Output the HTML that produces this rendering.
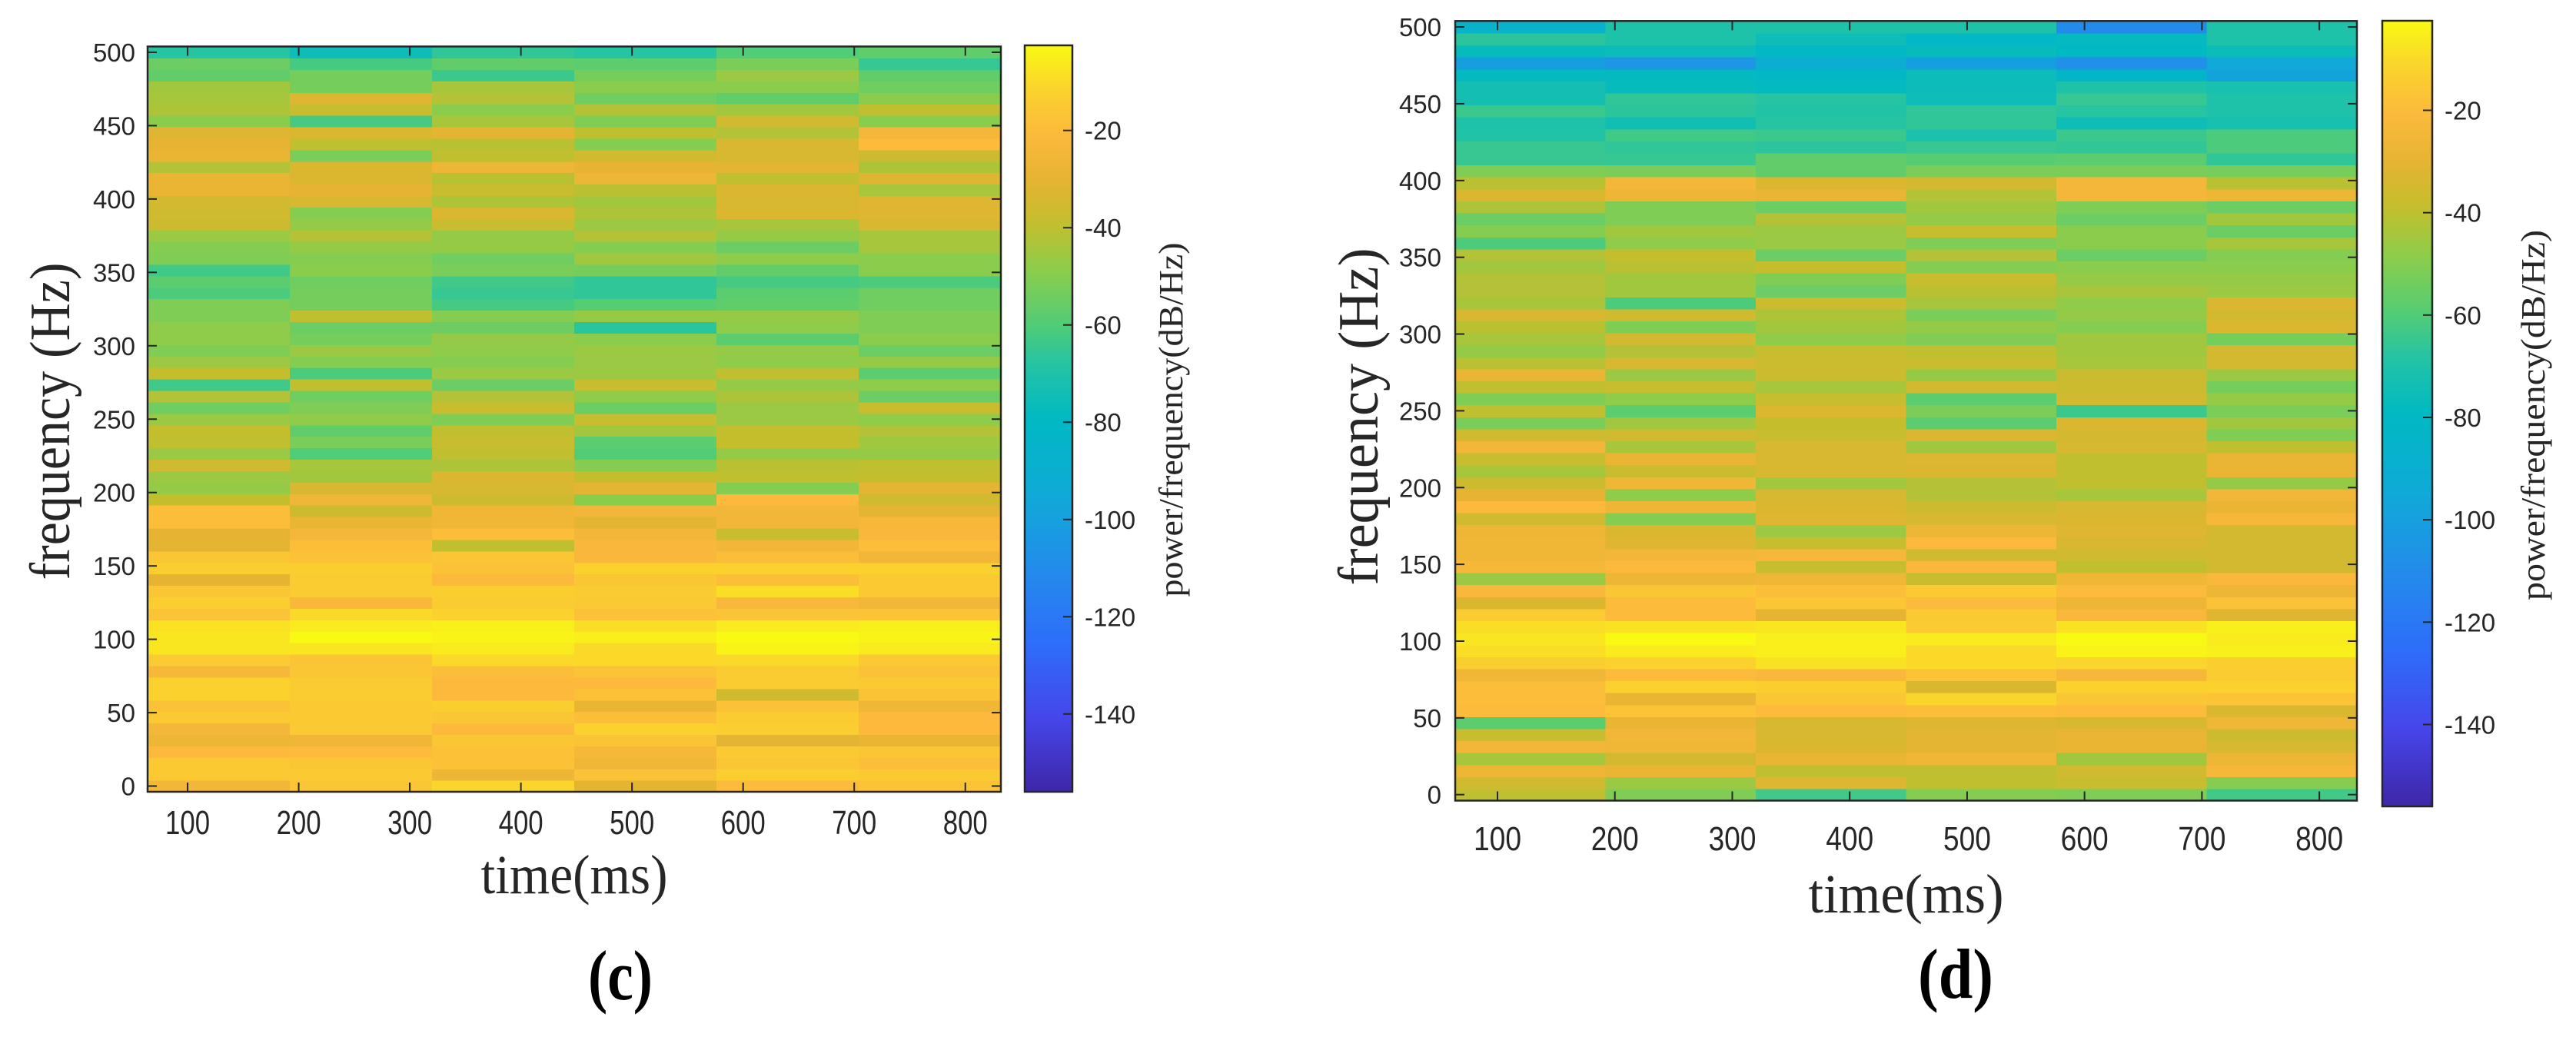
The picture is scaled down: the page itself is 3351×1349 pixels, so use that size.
<!DOCTYPE html>
<html><head><meta charset="utf-8"><title>Spectrograms (c) and (d)</title>
<style>html,body{margin:0;padding:0;background:#fff;}svg{display:block;}</style></head>
<body>
<svg id="fig" xmlns="http://www.w3.org/2000/svg" width="3351" height="1349" viewBox="0 0 3351 1349">
<rect x="0" y="0" width="3351" height="1349" fill="#fff"/>
</svg>
<script>
// ---------- data ----------
const timeCentersMs = [128, 256, 384, 512, 640, 768];
const timeTicks = [100, 200, 300, 400, 500, 600, 700, 800];
const freqTicks = [0, 50, 100, 150, 200, 250, 300, 350, 400, 450, 500];
const cbarTicks = [-20, -40, -60, -80, -100, -120, -140];
const freqBinHz = 7.8125;
// rows listed from 500 Hz (top) down to 0 Hz (bottom); columns = time bins
const powerC_topDown = [
[-68,-75,-66,-68,-60,-57],[-55,-62,-57,-58,-52,-65],[-57,-53,-64,-53,-46,-57],[-45,-53,-44,-49,-49,-54],
[-44,-32,-42,-54,-57,-49],[-43,-38,-49,-42,-45,-40],[-49,-62,-44,-51,-36,-49],[-32,-33,-31,-40,-42,-24],
[-30,-40,-41,-50,-34,-20],[-29,-52,-40,-36,-34,-37],[-42,-33,-27,-30,-31,-43],[-28,-33,-41,-27,-40,-32],
[-28,-30,-38,-41,-33,-44],[-36,-34,-43,-45,-34,-32],[-36,-50,-33,-43,-33,-32],[-37,-47,-38,-46,-44,-34],
[-46,-42,-47,-42,-47,-44],[-50,-47,-47,-50,-55,-44],[-51,-50,-54,-45,-48,-49],[-63,-49,-52,-53,-57,-49],
[-58,-54,-63,-66,-62,-61],[-61,-53,-65,-66,-58,-54],[-51,-53,-62,-59,-57,-54],[-51,-40,-50,-47,-47,-51],
[-48,-55,-55,-67,-48,-51],[-48,-53,-47,-49,-58,-49],[-51,-46,-48,-46,-47,-55],[-46,-50,-50,-46,-48,-47],
[-39,-61,-46,-46,-40,-58],[-63,-40,-55,-38,-47,-48],[-42,-54,-42,-48,-43,-55],[-54,-51,-38,-55,-46,-38],
[-46,-48,-51,-38,-46,-48],[-39,-57,-40,-45,-39,-42],[-40,-52,-38,-58,-39,-45],[-46,-60,-40,-60,-47,-47],
[-36,-44,-43,-50,-41,-40],[-46,-45,-33,-39,-40,-39],[-47,-34,-34,-31,-50,-31],[-39,-26,-37,-49,-21,-36],
[-19,-37,-26,-25,-25,-31],[-19,-28,-26,-31,-25,-23],[-30,-24,-19,-25,-38,-22],[-31,-19,-40,-22,-25,-19],
[-16,-18,-16,-22,-19,-25],[-13,-13,-18,-12,-12,-12],[-30,-14,-21,-16,-19,-15],[-16,-14,-13,-14,-9,-15],
[-13,-22,-14,-15,-22,-25],[-17,-10,-12,-18,-17,-17],[-8,-6,-5,-9,-6,-5],[-7,-2,-4,-5,-2,-4],
[-7,-7,-6,-10,-4,-6],[-14,-17,-10,-10,-10,-15],[-23,-16,-19,-17,-14,-18],[-12,-14,-21,-21,-14,-15],
[-12,-14,-21,-18,-36,-18],[-18,-15,-13,-29,-18,-26],[-15,-15,-16,-19,-14,-21],[-24,-15,-21,-12,-13,-21],
[-27,-26,-16,-17,-31,-29],[-21,-20,-18,-23,-15,-16],[-15,-16,-18,-26,-16,-19],[-15,-15,-27,-18,-13,-15],
[-25,-16,-11,-31,-20,-17]
];
const powerD_topDown = [
[-85,-70,-70,-70,-110,-70],[-67,-70,-75,-80,-78,-70],[-77,-76,-80,-77,-79,-76],[-100,-105,-90,-100,-108,-95],
[-78,-78,-80,-76,-82,-98],[-73,-77,-78,-76,-70,-72],[-73,-66,-68,-75,-65,-70],[-64,-67,-69,-66,-68,-70],
[-70,-74,-68,-66,-75,-72],[-69,-63,-64,-71,-64,-61],[-65,-66,-67,-65,-66,-61],[-65,-65,-57,-59,-58,-66],
[-51,-52,-57,-52,-52,-53],[-41,-24,-33,-35,-24,-41],[-33,-27,-28,-42,-24,-27],[-43,-51,-55,-45,-51,-55],
[-55,-51,-42,-47,-55,-45],[-50,-45,-46,-38,-49,-55],[-61,-48,-46,-51,-49,-44],[-42,-39,-55,-42,-55,-50],
[-45,-41,-39,-50,-49,-49],[-42,-45,-51,-38,-47,-47],[-42,-45,-55,-41,-44,-46],[-44,-61,-37,-44,-48,-33],
[-34,-36,-43,-52,-47,-35],[-41,-51,-45,-47,-50,-33],[-44,-35,-48,-51,-45,-53],[-47,-42,-38,-40,-45,-35],
[-41,-34,-37,-38,-44,-35],[-28,-46,-37,-47,-37,-46],[-40,-38,-44,-36,-37,-53],[-51,-48,-38,-58,-36,-47],
[-40,-58,-33,-52,-64,-52],[-52,-45,-39,-58,-33,-45],[-36,-36,-38,-33,-35,-51],[-25,-44,-34,-45,-34,-40],
[-38,-28,-34,-32,-40,-29],[-44,-38,-34,-33,-40,-29],[-37,-26,-45,-42,-40,-47],[-30,-48,-34,-42,-44,-25],
[-21,-27,-33,-37,-34,-28],[-36,-50,-32,-34,-33,-23],[-27,-33,-46,-27,-32,-35],[-26,-32,-38,-21,-34,-35],
[-26,-25,-23,-36,-36,-35],[-23,-21,-38,-22,-40,-35],[-46,-27,-26,-38,-26,-22],[-22,-16,-19,-15,-20,-27],
[-33,-20,-16,-20,-27,-18],[-14,-20,-30,-15,-22,-32],[-9,-8,-7,-14,-8,-5],[-7,-2,-5,-6,-2,-6],
[-9,-6,-5,-10,-4,-5],[-13,-12,-8,-10,-11,-13],[-26,-20,-22,-17,-23,-14],[-19,-12,-13,-33,-12,-12],
[-19,-28,-16,-11,-16,-17],[-20,-17,-20,-19,-20,-33],[-58,-29,-34,-32,-34,-26],[-38,-25,-34,-31,-28,-37],
[-25,-26,-33,-31,-28,-34],[-44,-35,-28,-26,-45,-27],[-27,-28,-40,-40,-36,-23],[-36,-46,-32,-40,-38,-50],
[-40,-51,-63,-50,-51,-63]
];
// index i -> frequency bin i*freqBinHz
const powerC = powerC_topDown.slice().reverse();
const powerD = powerD_topDown.slice().reverse();

// ---------- colormap (parula-like) ----------
const cmapStops = [
[0.00,62,38,168],[0.10,70,70,235],[0.20,45,110,250],[0.30,35,140,235],[0.40,15,170,215],
[0.50,0,185,195],[0.57,35,195,165],[0.63,85,205,115],[0.70,140,205,75],[0.76,195,190,45],
[0.82,230,180,50],[0.88,252,185,60],[0.94,250,210,45],[1.00,249,250,20]];
const CMIN = -156, CMAX = -2.5;
function cmap(v){
  let t=(v-CMIN)/(CMAX-CMIN); t=Math.max(0,Math.min(1,t));
  for(let i=1;i<cmapStops.length;i++){
    const a=cmapStops[i-1], b=cmapStops[i];
    if(t<=b[0]){const f=(t-a[0])/(b[0]-a[0]);
      return `rgb(${Math.round(a[1]+f*(b[1]-a[1]))},${Math.round(a[2]+f*(b[2]-a[2]))},${Math.round(a[3]+f*(b[3]-a[3]))})`;}
  }
  return 'rgb(249,250,20)';
}

const NS='http://www.w3.org/2000/svg';
const svg=document.getElementById('fig');
function mk(tag, attrs, parent){
  const e=document.createElementNS(NS,tag);
  for(const k in attrs) e.setAttribute(k,attrs[k]);
  (parent||svg).appendChild(e); return e;
}

function drawPanel(cfg){
  const g=mk('g',{});
  
  
  const xS = t => cfg.x0 + (t - 64) / 768 * (cfg.x1 - cfg.x0);
  const yS = f => cfg.y1 - (f + freqBinHz/2) / (65*freqBinHz) * (cfg.y1 - cfg.y0);
  const data=cfg.data;
  for(let i=0;i<data.length;i++){
    const f=i*freqBinHz;
    for(let j=0;j<timeCentersMs.length;j++){
      const t=timeCentersMs[j];
      const xa=xS(t-64), xb=xS(t+64), ya=yS(f+freqBinHz/2), yb=yS(f-freqBinHz/2);
      const r=mk('rect',{x:xa.toFixed(2),y:ya.toFixed(2),width:(xb-xa+0.6).toFixed(2),height:(yb-ya+0.6).toFixed(2),fill:cmap(data[i][j]),'shape-rendering':'crispEdges'},g);
      
      
    }
  }
  const box=mk('rect',{x:cfg.x0,y:cfg.y0,width:cfg.x1-cfg.x0,height:cfg.y1-cfg.y0,fill:'none',stroke:'#262626','stroke-width':2.5},g);
  
  
  timeTicks.forEach(t=>{
    const x=xS(t);
    mk('line',{x1:x,y1:cfg.y1,x2:x,y2:cfg.y1-12,stroke:'#262626','stroke-width':2},g);
    mk('line',{x1:x,y1:cfg.y0,x2:x,y2:cfg.y0+12,stroke:'#262626','stroke-width':2},g);
    const tx=mk('text',{x:0,y:0,'text-anchor':'middle','font-family':'"Liberation Sans",Arial,sans-serif','font-size':39,fill:'#262626',textLength:cfg.xtickLen,lengthAdjust:'spacingAndGlyphs',transform:`translate(${x},${cfg.xtickY}) scale(1,1.12)`},g);
    tx.textContent=t;
    
    
  });
  freqTicks.forEach(f=>{
    const y=yS(f);
    mk('line',{x1:cfg.x0,y1:y,x2:cfg.x0+12,y2:y,stroke:'#262626','stroke-width':2},g);
    mk('line',{x1:cfg.x1,y1:y,x2:cfg.x1-12,y2:y,stroke:'#262626','stroke-width':2},g);
    const ty=mk('text',{x:cfg.ytickX,y:y+12,'text-anchor':'end','font-family':'"Liberation Sans",Arial,sans-serif','font-size':33,fill:'#262626'},g);
    ty.textContent=f;
    
    
  });
  const xl=mk('text',{x:(cfg.x0+cfg.x1)/2,y:cfg.xlabelY,'text-anchor':'middle','font-family':'"Liberation Serif","Times New Roman",serif','font-size':72,fill:'#262626',textLength:cfg.xlabelLen,lengthAdjust:'spacingAndGlyphs'},g);
  xl.textContent='time(ms)';
  
  
  const yl=mk('text',{x:0,y:0,'text-anchor':'middle','font-family':'"Liberation Serif","Times New Roman",serif','font-size':74,fill:'#262626',textLength:cfg.ylabelLen,lengthAdjust:'spacingAndGlyphs',transform:`translate(${cfg.ylabelX},${cfg.ylabelY}) rotate(-90)`},g);
  yl.textContent='frequency (Hz)';
  
  
  const gid='grad-'+cfg.name;
  const defs=mk('defs',{},g);
  const lg=mk('linearGradient',{id:gid,x1:0,y1:1,x2:0,y2:0},defs);
  for(let k=0;k<=40;k++){const v=CMIN+k/40*(CMAX-CMIN); mk('stop',{offset:k/40,'stop-color':cmap(v)},lg);}
  const cb=mk('rect',{x:cfg.cbx0,y:cfg.cby0,width:cfg.cbx1-cfg.cbx0,height:cfg.cby1-cfg.cby0,fill:`url(#${gid})`,stroke:'#262626','stroke-width':2.5},g);
  
  
  const cS = v => cfg.cby1 - (v-CMIN)/(CMAX-CMIN)*(cfg.cby1-cfg.cby0);
  cbarTicks.forEach(v=>{
    const y=cS(v);
    mk('line',{x1:cfg.cbx1,y1:y,x2:cfg.cbx1-12,y2:y,stroke:'#262626','stroke-width':2},g);
    const tl=mk('text',{x:cfg.cbx1+16,y:y+12,'font-family':'"Liberation Sans",Arial,sans-serif','font-size':33,fill:'#262626'},g);
    tl.textContent=v;
    
    
  });
  const cl=mk('text',{x:0,y:0,'text-anchor':'middle','font-family':'"Liberation Serif","Times New Roman",serif','font-size':44,fill:'#262626',textLength:cfg.cblabelLen,lengthAdjust:'spacingAndGlyphs',transform:`translate(${cfg.cblabelX},${cfg.cblabelY}) rotate(-90)`},g);
  cl.textContent='power/frequency(dB/Hz)';
  
  
  const pl=mk('text',{x:cfg.panelX,y:cfg.panelY,'text-anchor':'middle','font-family':'"Liberation Serif","Times New Roman",serif','font-size':92,'font-weight':'bold',fill:'#000',textLength:cfg.panelLen,lengthAdjust:'spacingAndGlyphs'},g);
  pl.textContent=cfg.panel;
  
  
}

drawPanel({name:'panel-c', data:powerC, x0:192, x1:1302, y0:60.5, y1:1030,
  xtickY:1085, xtickLen:58, ytickX:176, xlabelY:1162, xlabelLen:243, ylabelX:90, ylabelY:548, ylabelLen:413,
  cbx0:1333, cbx1:1395, cby0:59, cby1:1030, cblabelX:1538, cblabelY:546, cblabelLen:461,
  panel:'(c)', panelX:807, panelY:1300, panelLen:84});
drawPanel({name:'panel-d', data:powerD, x0:1893, x1:3066, y0:27.3, y1:1041.5,
  xtickY:1106, xtickLen:62, ytickX:1875, xlabelY:1187, xlabelLen:254, ylabelX:1792, ylabelY:542, ylabelLen:439,
  cbx0:3099, cbx1:3164, cby0:27, cby1:1049, cblabelX:3310, cblabelY:540, cblabelLen:482,
  panel:'(d)', panelX:2544, panelY:1298, panelLen:98});
</script>
</body></html>
